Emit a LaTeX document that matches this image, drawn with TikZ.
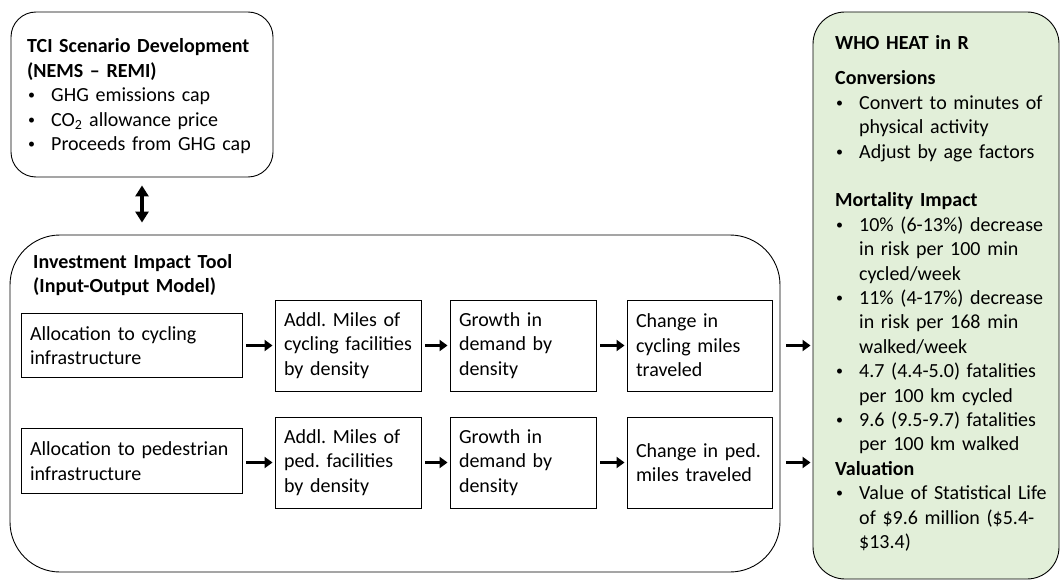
\documentclass[tikz,border=0pt]{standalone}
\usepackage{fontspec}
\setmainfont{Carlito}
\usetikzlibrary{arrows.meta,calc}
\definecolor{whogreen}{HTML}{E2EFD9}
\newcommand\mybul{\makebox[24pt][l]{\hspace*{1pt}\raisebox{1.8pt}{\fontsize{14}{14}\selectfont •}}}
\newcommand\myind{\hspace*{24pt}}
\begin{document}
\begin{tikzpicture}[x=1pt,y=-1pt,
  font=\fontsize{20}{24.4}\selectfont,
  frame/.style={draw=black, line width=0.9pt, rounded corners=#1, inner sep=0pt},
  stepbox/.style 2 args={draw=black, line width=0.9pt, minimum width=#1pt, minimum height=#2pt,
     text width=#1pt-18pt, inner xsep=9pt, inner ysep=0pt, align=left},
  txt/.style={anchor=base west, inner sep=0pt, align=left, text width=#1},
  flow/.style={line width=3.5pt, -{Triangle[width=11pt,length=8pt]}, shorten <=4pt, shorten >=2pt},
  dbl/.style={line width=3.5pt, {Triangle[width=13pt,length=11pt]}-{Triangle[width=13pt,length=11pt]},
     shorten <=8pt, shorten >=12pt}
]
\useasboundingbox (0,0) rectangle (1062,583);

% frames
\node[frame=25pt, minimum width=262pt, minimum height=165pt] (tci) at (142,94.5) {};
\node[frame=50pt, minimum width=770pt, minimum height=337pt] (iit) at (395,403.5) {};
\node[frame=32pt, fill=whogreen, minimum width=246pt, minimum height=567pt] (who) at (936,295.5) {};

% texts in frames
\node[txt=240pt] (tcitxt) at (27,53) {\textbf{TCI Scenario Development}\\
  \textbf{(NEMS – REMI)}\\
  \mybul GHG emissions cap\\
  \mybul CO\textsubscript{2} allowance price\\
  \mybul Proceeds from GHG cap};

\node[txt=300pt] (iittxt) at (33,268) {\textbf{Investment Impact Tool}\\
  \textbf{(Input-Output Model)}};

\node[txt=222pt] (whotxt) at (835,50) {\textbf{WHO HEAT in R}\\[10.6pt]
  \textbf{Conversions}\\
  \mybul Convert to minutes of\\
  \myind physical activity\\
  \mybul Adjust by age factors\\[24.4pt]
  \textbf{Mortality Impact}\\
  \mybul 10\% (6-13\%) decrease\\
  \myind in risk per 100 min\\
  \myind cycled/week\\
  \mybul 11\% (4-17\%) decrease\\
  \myind in risk per 168 min\\
  \myind walked/week\\
  \mybul 4.7 (4.4-5.0) fatalities\\
  \myind per 100 km cycled\\
  \mybul 9.6 (9.5-9.7) fatalities\\
  \myind per 100 km walked\\
  \textbf{Valuation}\\
  \mybul Value of Statistical Life\\
  \myind of \$9.6 million (\$5.4-\\
  \myind \$13.4)};

% row 1
\node[stepbox={221}{64}] (a1) at (131.5,345.5) {Allocation~to~cycling\\ infrastructure};
\node[stepbox={146}{91}] (b1) at (348,345.5) {Addl.~Miles~of\\ cycling~facilities\\ by~density};
\node[stepbox={146}{91}] (c1) at (523,345.5) {Growth~in\\ demand~by\\ density};
\node[stepbox={145}{91}] (d1) at (699.5,345.5) {Change~in\\ cycling~miles\\ traveled};

% row 2
\node[stepbox={221}{65}] (a2) at (131.5,461) {Allocation~to~pedestrian\\ infrastructure};
\node[stepbox={146}{91}] (b2) at (348,462.5) {Addl.~Miles~of\\ ped.~facilities\\ by~density};
\node[stepbox={146}{91}] (c2) at (523,462.5) {Growth~in\\ demand~by\\ density};
\node[stepbox={145}{91}] (d2) at (699.5,462.5) {Change~in~ped.\\ miles~traveled};

% connectors
\draw[dbl] (tci.south) -- (tci.south |- iit.north);

\draw[flow] (a1.east) -- (b1.west);
\draw[flow] (b1.east) -- (c1.west);
\draw[flow] (c1.east) -- (d1.west);
\draw[flow, shorten <=6pt] (d1.east -| iit.east) -- (d1.east -| who.west);

\draw[flow] (a2.east |- b2.west) -- (b2.west);
\draw[flow] (b2.east) -- (c2.west);
\draw[flow] (c2.east) -- (d2.west);
\draw[flow, shorten <=6pt] (d2.east -| iit.east) -- (d2.east -| who.west);
\end{tikzpicture}
\end{document}
